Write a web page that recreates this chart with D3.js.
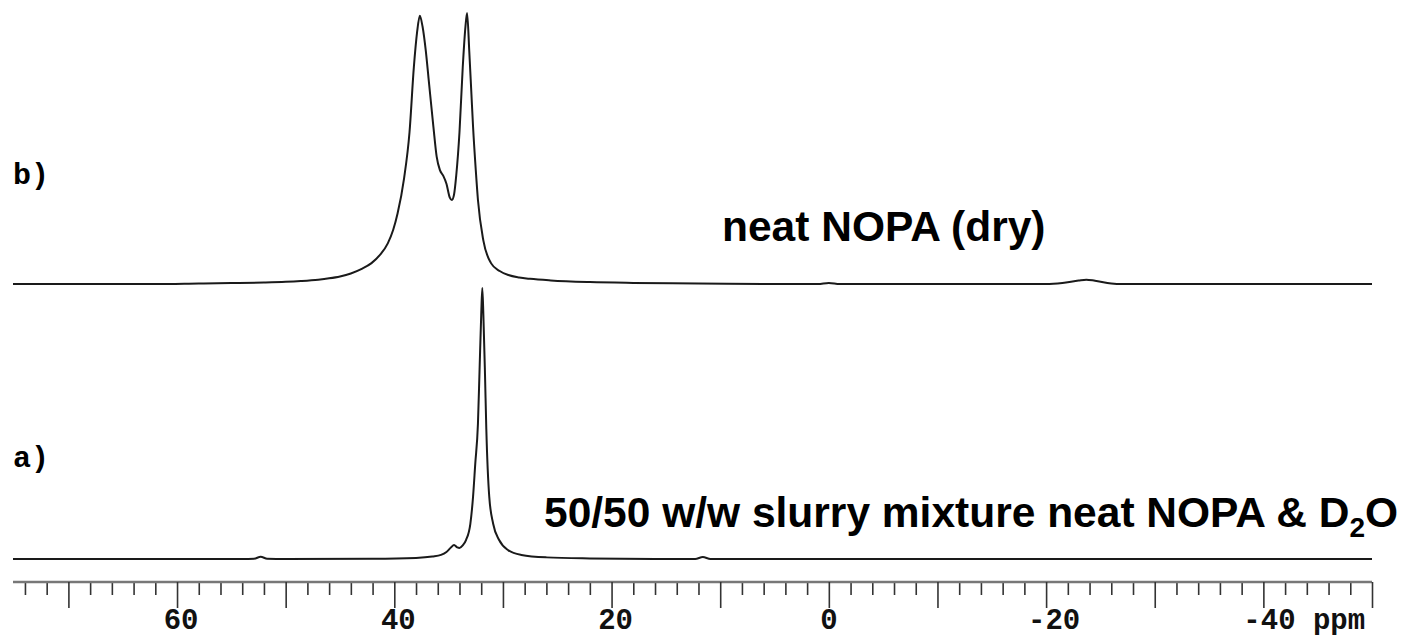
<!DOCTYPE html>
<html>
<head>
<meta charset="utf-8">
<script src="https://cdn.jsdelivr.net/npm/d3@7"></script>
<style>
  html, body { margin: 0; padding: 0; background: #fff; }
  svg { display: block; }
</style>
</head>
<body>
<div id="d3container"></div>
<script>
// spectrum b) neat NOPA (dry): chemical shift (ppm) and relative intensity (%)
const ppmB = [75.1, 62, 58, 55, 52, 50, 48.6, 47, 46, 45, 44, 43, 42.1, 41.3, 40.6, 40.1, 39.7, 39.1, 38.6, 38.2, 37.9, 37.65,
  37.4, 37.1, 36.85, 36.4, 36.1, 35.8, 35.5, 35.2, 34.9, 34.7, 34.5, 34.3, 34.0, 33.7, 33.45, 33.3, 33.1, 32.9, 32.75,
  32.5, 32.3, 31.8, 31.1, 30.3, 29.5, 28.5, 27.5, 25.6, 22, 18, 12, 6, 1, 0, -1, -20, -21.5, -23, -23.7, -24.5, -26, -27, -50];
const intB = [0, 0, 0.2, 0.35, 0.55, 0.8, 1.1, 1.6, 2.1, 2.8, 3.9, 5.6, 7.7, 10.8, 15, 20, 26, 39, 56, 80, 93, 99,
  95, 86, 76, 58, 47, 42, 40, 37, 32, 31, 33, 40, 56, 80, 95, 100, 86, 70, 58,
  42, 31, 16, 7.7, 4.8, 3.3, 2.4, 1.9, 1.3, 0.7, 0.4, 0.2, 0, 0, 0.4, 0, 0, 0.4, 1.3, 1.6, 1.2, 0.2, 0, 0];

// spectrum a) 50/50 slurry with D2O
const ppmA = [75.1, 54, 52.9, 52.3, 51.7, 50, 42, 38, 36.5, 35.7, 35.2, 34.8, 34.5, 34.2, 34.0, 33.7, 33.4, 33.0, 32.75,
  32.55, 32.3, 32.15, 32.0, 31.9, 31.8, 31.65, 31.53, 31.26, 30.9, 30.35, 29.5, 28.3, 26, 22, 16, 12.3, 11.6, 10.9, -50];
const intA = [0, 0, 0.1, 0.8, 0.1, 0, 0.1, 0.4, 0.9, 1.5, 2.6, 4.2, 5.2, 4.3, 4.1, 5.0, 7, 13, 23,
  35, 50, 70, 90, 100, 90, 68, 48, 23, 13, 7, 3.2, 1.5, 0.6, 0.2, 0, 0, 0.7, 0, 0];

const minorTicks = d3.range(74, -51, -2).filter(v => v % 10 !== 0);
const majorTicks = [70, 60, 50, 40, 30, 20, 10, 0, -10, -20, -30, -40, -50];
const tickLabels = [60, 40, 20, 0, -20, -40];

const width = 1405, height = 636;

const svg = d3.select("#d3container")
    .append("svg")
    .attr("width", width)
    .attr("height", height);

const x = d3.scaleLinear().domain([75.1, -50]).range([13, 1372]);
const yB = d3.scaleLinear().domain([0, 100]).range([284, 13]);
const yA = d3.scaleLinear().domain([0, 100]).range([559, 288]);

const line = y => d3.line()
    .x(d => x(d[0]))
    .y(d => y(d[1]))
    .curve(d3.curveMonotoneX);

svg.append("path")
    .datum(d3.zip(ppmB, intB))
    .attr("fill", "none")
    .attr("stroke", "#1a1a1a")
    .attr("stroke-width", 2)
    .attr("d", line(yB));

svg.append("path")
    .datum(d3.zip(ppmA, intA))
    .attr("fill", "none")
    .attr("stroke", "#1a1a1a")
    .attr("stroke-width", 2)
    .attr("d", line(yA));

// ppm axis
const axisY = 582;
const gMinor = svg.append("g")
    .attr("transform", `translate(0,${axisY})`)
    .call(d3.axisBottom(x).tickValues(minorTicks).tickSize(13).tickFormat(""));
const gMajor = svg.append("g")
    .attr("transform", `translate(0,${axisY})`)
    .call(d3.axisBottom(x).tickValues(majorTicks).tickSize(26).tickFormat(""));
gMinor.select(".domain").remove();
gMajor.select(".domain")
    .attr("stroke", "#777")
    .attr("stroke-width", 2.5)
    .attr("d", `M${x(75.1)},0H${x(-50)}`);
svg.selectAll(".tick line").attr("stroke", "#333").attr("stroke-width", 1.6);

const mono = "'Liberation Mono', 'DejaVu Sans Mono', monospace";
svg.selectAll(".ticklabel")
    .data(tickLabels)
    .enter().append("text")
    .attr("class", "ticklabel")
    .attr("x", d => x(d) + (d < 0 ? 8 : d > 0 ? 4 : 0))
    .attr("y", 629)
    .attr("text-anchor", d => d === -40 ? "start" : "middle")
    .attr("dx", d => d === -40 ? -28 : 0)
    .style("font-family", mono)
    .style("font-weight", "bold")
    .style("font-size", "29px")
    .attr("fill", "#111")
    .text(d => d === -40 ? "-40 ppm" : d);

// trace labels
svg.append("text").attr("x", 13).attr("y", 184)
    .style("font-family", mono).style("font-weight", "bold").style("font-size", "30px")
    .text("b)");
svg.append("text").attr("x", 13).attr("y", 467)
    .style("font-family", mono).style("font-weight", "bold").style("font-size", "30px")
    .text("a)");

const sans = "'Liberation Sans', Arial, sans-serif";
svg.append("text").attr("x", 722).attr("y", 241)
    .style("font-family", sans).style("font-weight", "bold").style("font-size", "42.5px")
    .text("neat NOPA (dry)");

const t2 = svg.append("text").attr("x", 544).attr("y", 527)
    .style("font-family", sans).style("font-weight", "bold").style("font-size", "42.5px");
t2.append("tspan").text("50/50 w/w slurry mixture neat NOPA & D");
t2.append("tspan").attr("dy", 10).style("font-size", "28px").text("2");
t2.append("tspan").attr("dy", -10).text("O");
</script>
</body>
</html>
